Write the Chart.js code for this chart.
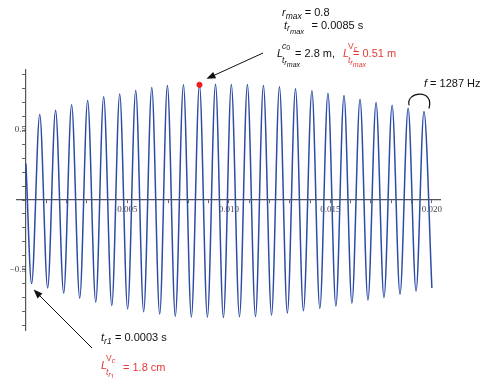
<!DOCTYPE html>
<html>
<head>
<meta charset="utf-8">
<script src="https://cdn.jsdelivr.net/npm/chart.js@4.4.1/dist/chart.umd.min.js"></script>
<style>
  body { margin: 0; background: #fff; }
</style>
</head>
<body>
<canvas id="myChart" width="483" height="378"></canvas>
<script>
// values (t in s)
const startT = [0];
const startV = [0.26];
const troughT = [0.00028, 0.00107, 0.00186, 0.00265, 0.00344, 0.00423, 0.00501, 0.00580, 0.00659, 0.00736, 0.00815, 0.00894, 0.00973,
    0.01052, 0.01131, 0.01210, 0.01288, 0.01367, 0.01448, 0.01527, 0.01606, 0.01685, 0.01764, 0.01843, 0.01922, 0.02000];
const troughV = [-0.598, -0.629, -0.666, -0.702, -0.731, -0.755, -0.779, -0.800, -0.816, -0.831, -0.838, -0.838, -0.841,
    -0.836, -0.834, -0.824, -0.809, -0.793, -0.776, -0.759, -0.738, -0.716, -0.698, -0.674, -0.652, -0.629];
const peakT = [0.00068, 0.00146, 0.00225, 0.00304, 0.00383, 0.00462, 0.00541, 0.00620, 0.00697, 0.00776, 0.00855, 0.00934, 0.01012,
    0.01091, 0.01170, 0.01249, 0.01328, 0.01409, 0.01488, 0.01567, 0.01646, 0.01725, 0.01804, 0.01883, 0.01961];
const peakV = [0.611, 0.642, 0.681, 0.711, 0.738, 0.759, 0.783, 0.804, 0.819, 0.824, 0.824, 0.828, 0.826,
    0.826, 0.819, 0.811, 0.795, 0.781, 0.764, 0.747, 0.721, 0.697, 0.678, 0.656, 0.633];
const markT = [0.00855]; // r max
const markV = [0.824];
const xLabelValues = [0.005, 0.010, 0.015, 0.020];
const yLabelValues = [-0.5, 0.5];

const points = [{ x: startT[0], y: startV[0] }];
troughT.forEach((t, i) => {
    points.push({ x: t, y: troughV[i] });
    if (i < peakT.length) points.push({ x: peakT[i], y: peakV[i] });
});

const SANS = '"Liberation Sans", Arial, sans-serif';
const RED = '#e23b35';
const INK = '#111';

// text with italic / sub parts, p.x = absolute x
function runs(ctx, x, y, parts, color) {
    ctx.fillStyle = color;
    for (const p of parts) {
        ctx.font = (p.i ? 'italic ' : '') + (p.s || 11) + 'px ' + SANS;
        if (p.x !== undefined) x = p.x;
        ctx.fillText(p.t, x, y + (p.dy || 0));
        x += ctx.measureText(p.t).width;
    }
    return x;
}

function arrow(ctx, x1, y1, x2, y2) {
    const a = Math.atan2(y2 - y1, x2 - x1);
    ctx.strokeStyle = INK;
    ctx.fillStyle = INK;
    ctx.lineWidth = 1;
    ctx.beginPath();
    ctx.moveTo(x1, y1);
    ctx.lineTo(x2 - 6 * Math.cos(a), y2 - 6 * Math.sin(a));
    ctx.stroke();
    ctx.beginPath();
    ctx.moveTo(x2, y2);
    ctx.lineTo(x2 - 9 * Math.cos(a) + 3.5 * Math.sin(a), y2 - 9 * Math.sin(a) - 3.5 * Math.cos(a));
    ctx.lineTo(x2 - 9 * Math.cos(a) - 3.5 * Math.sin(a), y2 - 9 * Math.sin(a) + 3.5 * Math.cos(a));
    ctx.closePath();
    ctx.fill();
}

// L with stacked super/subscript
function stackedL(ctx, x, y, sup, sub, color) {
    runs(ctx, x, y, [{ t: 'L', i: 1 }], color);
    runs(ctx, x + 5, y - 8, sup, color);
    runs(ctx, x + 5, y + 6, sub, color);
}

const notes = {
    id: 'notes',
    afterDraw(chart) {
        const ctx = chart.ctx;
        const xs = chart.scales.x, ys = chart.scales.y;
        ctx.save();
        ctx.textBaseline = 'alphabetic';
        ctx.textAlign = 'left';

        // top
        runs(ctx, 282, 16, [{ t: 'r', i: 1 }, { t: 'max', i: 1, s: 8.5, dy: 2.5 }, { t: ' = 0.8' }], INK);
        runs(ctx, 284, 29, [{ t: 't', i: 1 }, { t: 'r', i: 1, s: 8.5, dy: 2 }, { t: 'max', i: 1, s: 7.5, dy: 4.5 }, { t: '= 0.0085 s', x: 311.5 }], INK);

        const subMax = [{ t: 't', i: 1, s: 8.5 }, { t: 'r', i: 1, s: 7.5, dy: 1.5 }, { t: 'max', i: 1, s: 7, dy: 3.5 }];
        stackedL(ctx, 277, 57, [{ t: 'c', i: 1, s: 8.5 }, { t: '0', s: 7, dy: 0.5 }], subMax, INK);
        runs(ctx, 295, 57, [{ t: '= 2.8 m,' }], INK);

        stackedL(ctx, 343, 57, [{ t: 'V', s: 8.5 }, { t: 'c', i: 1, s: 7, dy: 1.5 }], subMax, RED);
        runs(ctx, 353, 57, [{ t: '= 0.51 m' }], RED);

        // bottom
        runs(ctx, 101, 341, [{ t: 't', i: 1 }, { t: 'r1', i: 1, s: 8.5, dy: 2.5 }, { t: '= 0.0003 s', x: 115 }], INK);
        stackedL(ctx, 101, 369, [{ t: 'V', s: 8.5 }, { t: 'c', i: 1, s: 7, dy: 1.5 }],
            [{ t: 't', i: 1, s: 8.5 }, { t: 'r', i: 1, s: 7.5, dy: 1.5 }, { t: '1', s: 6.5, dy: 3.5 }], RED);
        runs(ctx, 123, 371, [{ t: '= 1.8 cm' }], RED);

        // f label
        runs(ctx, 424, 87, [{ t: 'f', i: 1 }, { t: ' = 1287 Hz' }], INK);

        // arrows
        arrow(ctx, 263, 53, xs.getPixelForValue(markT[0]) + 7, ys.getPixelForValue(markV[0]) - 6);
        arrow(ctx, 92, 348, xs.getPixelForValue(troughT[0]) + 2, ys.getPixelForValue(troughV[0]) + 6);

        // bracket over the last two peaks
        const n = peakT.length;
        const ax = xs.getPixelForValue(peakT[n - 2]) + 1, ay = ys.getPixelForValue(peakV[n - 2]) - 3;
        const bx = xs.getPixelForValue(peakT[n - 1]) + 5, by = ys.getPixelForValue(peakV[n - 1]) - 3;
        ctx.strokeStyle = INK;
        ctx.lineWidth = 1.2;
        ctx.beginPath();
        ctx.moveTo(ax, ay);
        ctx.bezierCurveTo(ax - 4, ay - 14, bx + 6, by - 20, bx, by);
        ctx.stroke();
        ctx.restore();
    }
};

const cht = document.getElementById('myChart');

const chart = new Chart(cht, {
    type: 'line',
    data: {
        datasets: [{
            data: points,
            borderColor: '#2c4ca6',
            borderWidth: 1.5,
            pointRadius: 0,
            cubicInterpolationMode: 'monotone', // smooth through the extrema
            order: 2
        }, {
            type: 'scatter',
            data: markT.map((t, i) => ({ x: t, y: markV[i] })),
            pointRadius: 2.6,
            pointBackgroundColor: '#f01c1c',
            pointBorderColor: '#f01c1c',
            order: 1
        }]
    },
    options: {
        responsive: false,
        animation: false,
        devicePixelRatio: 1,
        layout: {
            padding: { left: 17, right: 43, top: 70, bottom: 48 }
        },
        scales: {
            x: {
                type: 'linear',
                position: { y: 0 }, // axes cross at origin
                min: -0.00044,
                max: 0.0204,
                grid: {
                    drawOnChartArea: false,
                    tickLength: 3,
                    tickColor: '#666'
                },
                border: { color: '#555', width: 1.2 },
                ticks: {
                    stepSize: 0.001,
                    includeBounds: false,
                    autoSkip: false,
                    maxRotation: 0,
                    padding: 1,
                    color: '#444',
                    font: { family: '"Liberation Serif", serif', size: 9 },
                    callback: (v) => xLabelValues.some(l => Math.abs(l - v) < 1e-7) ? v.toFixed(3) : ''
                }
            },
            y: {
                type: 'linear',
                position: { x: 0 },
                min: -0.93,
                max: 0.93,
                grid: {
                    drawOnChartArea: false,
                    tickLength: 3,
                    tickColor: '#666'
                },
                border: { color: '#555', width: 1.2 },
                ticks: {
                    stepSize: 0.1,
                    includeBounds: false,
                    autoSkip: false,
                    padding: 2,
                    color: '#444',
                    font: { family: '"Liberation Serif", serif', size: 9 },
                    callback: (v) => {
                        const l = yLabelValues.find(a => Math.abs(a - v) < 1e-7);
                        return l === undefined ? '' : (l < 0 ? '\u2212' : '') + Math.abs(l).toFixed(1);
                    }
                }
            }
        },
        plugins: {
            legend: { display: false },
            tooltip: { enabled: false }
        }
    },
    plugins: [notes]
});
</script>
</body>
</html>
